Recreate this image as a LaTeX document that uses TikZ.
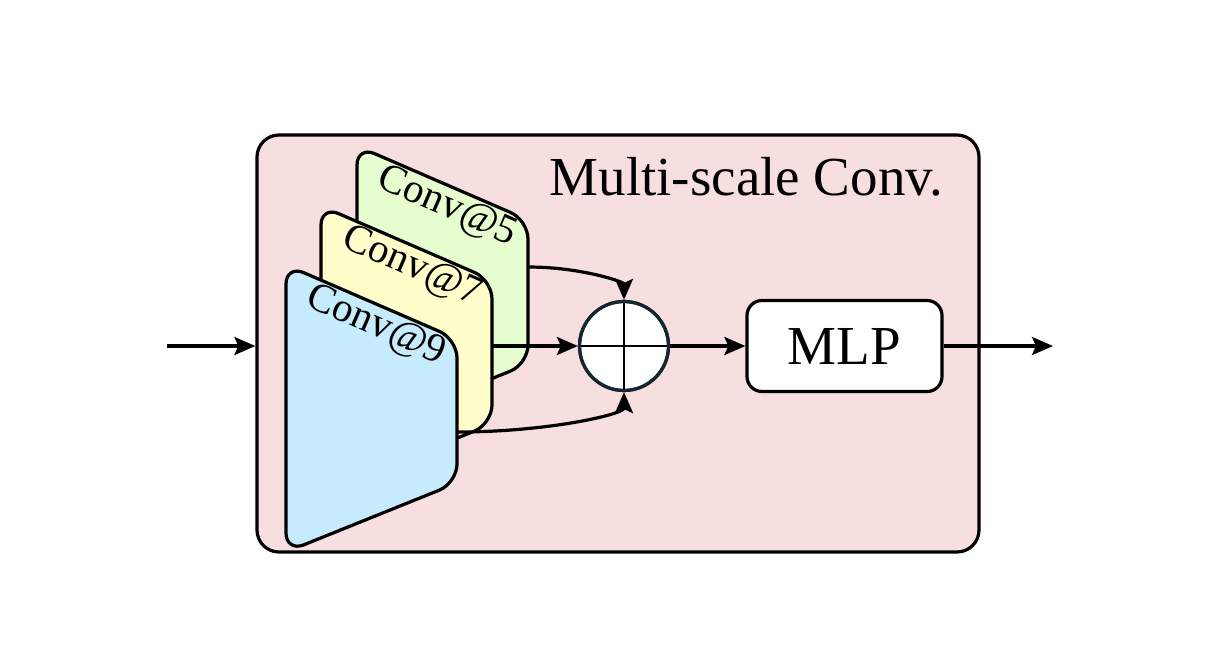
\documentclass[tikz,border=0pt]{standalone}
\usepackage{fontspec}
\setmainfont{Liberation Serif}
\usetikzlibrary{arrows.meta}
\definecolor{boxpink}{HTML}{F7DFDF}
\definecolor{slabblue}{HTML}{C6EBFC}
\definecolor{slabyellow}{HTML}{FFFDCA}
\definecolor{slabgreen}{HTML}{E5FDCF}
\definecolor{circdark}{HTML}{15262E}
\newcommand\bigfont{\fontsize{55}{60}\selectfont}
\newcommand\convfont{\fontsize{41}{45}\selectfont}
\begin{document}
\begin{tikzpicture}[x=1pt,y=-1pt,line width=3.2pt,
  >={Stealth[length=21pt,width=18pt,inset=4pt]},
  slab/.style={draw, rounded corners=19pt, line width=3.2pt},
  convlabel/.style={rotate=-23.4, font=\convfont, inner sep=0pt},
  arrow/.style={->, line width=3.2pt}]
\useasboundingbox (0,0) rectangle (1215,665);
% outer box
\node[draw, rounded corners=22pt, fill=boxpink, minimum width=722pt, minimum height=417pt, inner sep=0pt] (outer) at (618,343.5) {};
\node[anchor=base west, font=\bigfont, inner sep=0pt] (title) at (548,195) {Multi-scale Conv.};
% slabs
\draw[slab, fill=slabgreen, shift={(71,-119)}] (286,265)--(457,339)--(457,483)--(286,552)--cycle;
\node[convlabel] (t5) at (447,207) {Conv@5};
\draw[slab, fill=slabyellow, shift={(35,-59)}] (286,265)--(457,339)--(457,483)--(286,552)--cycle;
\node[convlabel] (t7) at (412,267) {Conv@7};
\draw[slab, fill=slabblue] (286,265)--(457,339)--(457,483)--(286,552)--cycle;
\node[convlabel] (t9) at (376,326) {Conv@9};
\coordinate (g-out) at (528,267);
\coordinate (y-out) at (492,346);
\coordinate (b-out) at (457,432);
% sum
\node[circle, draw=circdark, fill=white, minimum size=89pt, inner sep=0pt] (sum) at (624,346) {};
\draw[line width=2.6pt] (sum.north) -- (sum.south) (sum.west) -- (sum.east);
\node[draw=circdark, circle, minimum size=89pt, inner sep=0pt] at (sum.center) {};
% MLP
\node[draw, rounded corners=15pt, fill=white, minimum width=195pt, minimum height=91pt, font=\bigfont, inner sep=0pt] (mlp) at (844.5,346) {MLP};
% io
\coordinate (in) at (167,346);
\coordinate (out) at (1053,346);
% arrows
\draw[arrow] (in) -- (in -| outer.west);
\draw[arrow] (g-out) .. controls +(53,0) and +(0,-18) .. (sum.north);
\draw[arrow] (y-out) -- (sum.west);
\draw[arrow] (b-out) .. controls +(92,0) and +(0,22) .. (sum.south);
\draw[arrow] (sum.east) -- (mlp.west);
\draw[arrow] (mlp.east) -- (out);
\end{tikzpicture}
\end{document}
